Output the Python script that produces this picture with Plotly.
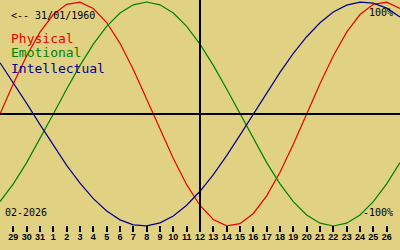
import plotly.graph_objects as go

# Days shown (28 Jan 2026 .. 27 Feb 2026)
day_labels = ["28", "29", "30", "31"] + [str(d) for d in range(1, 28)]
physical = [0.0, 0.270, 0.520, 0.731, 0.888, 0.979, 0.998, 0.942, 0.817, 0.631,
            0.398, 0.136, -0.136, -0.398, -0.631, -0.817, -0.942, -0.998, -0.979, -0.888,
            -0.731, -0.520, -0.270, 0.0, 0.270, 0.520, 0.731, 0.888, 0.979, 0.998, 0.942]
emotional = [-0.782, -0.624, -0.434, -0.223, 0.0, 0.223, 0.434, 0.624, 0.782, 0.901,
             0.975, 1.0, 0.975, 0.901, 0.782, 0.624, 0.434, 0.223, 0.0, -0.223,
             -0.434, -0.624, -0.782, -0.901, -0.975, -1.0, -0.975, -0.901, -0.782, -0.624, -0.434]
intellectual = [0.458, 0.282, 0.095, -0.095, -0.282, -0.458, -0.618, -0.756, -0.866, -0.945,
                -0.990, -0.999, -0.972, -0.910, -0.815, -0.690, -0.541, -0.372, -0.189, 0.0,
                0.189, 0.372, 0.541, 0.690, 0.815, 0.910, 0.972, 0.999, 0.990, 0.945, 0.866]
series_names = ["Physical", "Emotional", "Intellectual"]
birth_text = "<-- 31/01/1960"
month_text = "02-2026"
today_label = "12"

BG = "rgb(224,210,130)"
colors = ["rgb(235,0,0)", "rgb(0,128,0)", "rgb(0,0,140)"]

x = list(range(len(day_labels)))
fig = go.Figure()
for name, vals, c in zip(series_names, [physical, emotional, intellectual], colors):
    fig.add_trace(go.Scatter(x=x, y=vals, mode="lines", name=name,
                             line=dict(color=c, width=1.2), showlegend=False,
                             hoverinfo="skip"))

tick_idx = x[1:30]
fig.update_layout(
    width=400, height=250,
    margin=dict(l=0, r=0, t=0, b=0),
    paper_bgcolor=BG, plot_bgcolor=BG,
    xaxis=dict(range=[0, 30], showgrid=False, zeroline=False, showline=False,
               anchor="free", position=0.1, ticks="outside", ticklen=6,
               tickwidth=1.5, tickcolor="black", ticklabelstandoff=-3,
               tickvals=tick_idx, ticktext=[day_labels[i] for i in tick_idx],
               tickfont=dict(family="Liberation Sans", size=9, color="black", weight="bold"),
               fixedrange=True),
    yaxis=dict(range=[-1.2143, 1.0179], visible=False, fixedrange=True),
)

# reference lines: zero line and today marker
fig.add_shape(type="line", xref="paper", yref="y", x0=0, x1=1, y0=0, y1=0,
              line=dict(color="black", width=2))
ti = day_labels.index(today_label)
fig.add_shape(type="line", xref="x", yref="paper", x0=ti, x1=ti, y0=0.076, y1=1,
              line=dict(color="black", width=2))

mono = "DejaVu Sans Mono"
def ann(text, xp, yp, size, color, anchor="left"):
    fig.add_annotation(text=text, xref="paper", yref="paper", x=xp, y=yp,
                       xanchor=anchor, yanchor="middle", showarrow=False,
                       font=dict(family=mono, size=size, color=color), borderpad=0)

ann(birth_text, 0.025, 0.936, 10, "black")
for i, (name, c) in enumerate(zip(series_names, colors)):
    ann(name, 0.025, 0.848 - i * 0.06, 13, c)
ann(month_text, 0.01, 0.152, 10, "black")
ann("100%", 0.985, 0.952, 10, "black", "right")
ann("-100%", 0.985, 0.150, 10, "black", "right")

fig.write_html("out.html")
